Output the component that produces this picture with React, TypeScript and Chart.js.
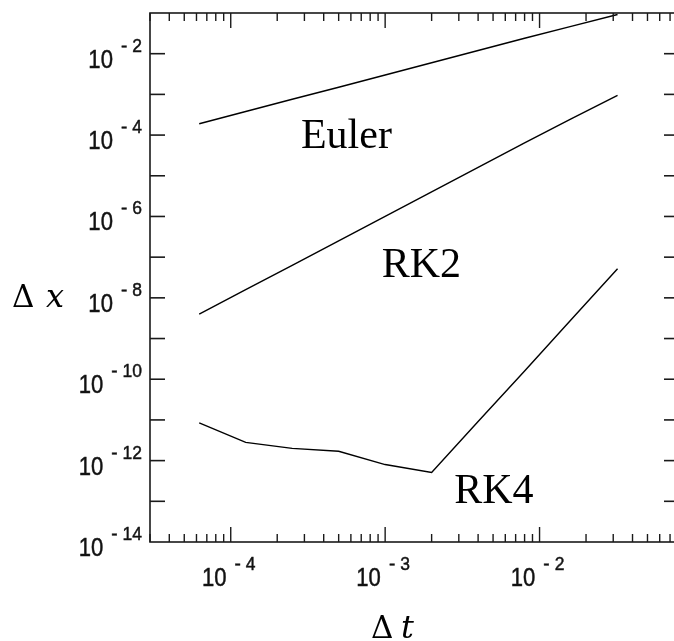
import React, { useEffect, useRef } from 'react';
import { Chart, registerables } from 'chart.js';

Chart.register(...registerables);

// ---- data ----
const dt = [6.25e-5, 1.25e-4, 2.5e-4, 5e-4, 1e-3, 2e-3, 4e-3, 8e-3, 1.6e-2, 3.2e-2];
const euler = [1.9e-4, 3.8e-4, 7.6e-4, 1.5e-3, 3.0e-3, 6.0e-3, 1.2e-2, 2.4e-2, 4.7e-2, 9.2e-2];
const rk2 = [4.0e-9, 1.6e-8, 6.3e-8, 2.5e-7, 1.0e-6, 4.0e-6, 1.6e-5, 6.4e-5, 2.5e-4, 9.5e-4];
const rk4 = [8.5e-12, 2.8e-12, 2.0e-12, 1.7e-12, 8.0e-13, 5.1e-13, 9.1e-12, 1.6e-10, 2.9e-9, 5.2e-8];

const curveNames = ['Euler', 'RK2', 'RK4'];
const nameDt = [2.85e-4, 9.5e-4, 2.8e-3];
const nameDx = [4.9e-5, 3.2e-8, 9.1e-14];

const xMin = 3e-5;
const xMax = 0.08;
const yMin = 1e-14;
const yMax = 1e-1;

const xLabelExps = [-4, -3, -2];
const xDecades = [-5, -4, -3, -2, -1];
const yLabelExps = [-14, -12, -10, -8, -6, -4, -2];
const yTickExps = [-13, -12, -11, -10, -9, -8, -7, -6, -5, -4, -3, -2];

const xTitle = ['Δ', 't'];
const yTitle = ['Δ', 'x'];

const BASE_FONT = '26px "Liberation Sans", Arial, sans-serif';
const SUP_FONT = '19px "Liberation Sans", Arial, sans-serif';
const CONDENSE = 0.85;

function powWidth(ctx: CanvasRenderingContext2D, exp: number) {
  ctx.font = BASE_FONT;
  const w10 = ctx.measureText('10').width * CONDENSE;
  ctx.font = SUP_FONT;
  const wm = ctx.measureText('-').width;
  const wd = ctx.measureText(String(Math.abs(exp))).width * 0.92;
  return { w10, wm, wd, gap: 8, gap2: 5, total: w10 + 8 + wm + 5 + wd };
}

function heavyText(ctx: CanvasRenderingContext2D, t: string, x: number, y: number) {
  ctx.fillText(t, x, y);
  ctx.strokeText(t, x, y);
}

function drawPow(ctx: CanvasRenderingContext2D, exp: number, left: number, baseBaseline: number, supBaseline: number) {
  const m = powWidth(ctx, exp);
  ctx.textAlign = 'left';
  ctx.textBaseline = 'alphabetic';
  ctx.lineWidth = 0.5;
  ctx.font = BASE_FONT;
  ctx.save();
  ctx.translate(left, baseBaseline);
  ctx.scale(CONDENSE, 1);
  heavyText(ctx, '10', 0, 0);
  ctx.restore();
  ctx.font = SUP_FONT;
  let x = left + m.w10 + m.gap;
  heavyText(ctx, '-', x, supBaseline);
  x += m.wm + m.gap2;
  ctx.save();
  ctx.translate(x, supBaseline);
  ctx.scale(0.92, 1);
  heavyText(ctx, String(Math.abs(exp)), 0, 0);
  ctx.restore();
}

const decorPlugin = {
  id: 'decor',
  afterDraw(chart: any) {
    const { ctx, chartArea: a } = chart;
    const xs = chart.scales.x;
    const ys = chart.scales.y;
    ctx.save();
    ctx.strokeStyle = '#1a1a1a';
    ctx.fillStyle = '#111';
    ctx.lineWidth = 1.6;
    ctx.strokeRect(a.left, a.top, a.right - a.left, a.bottom - a.top);

    const seg = (x1: number, y1: number, x2: number, y2: number) => {
      ctx.beginPath();
      ctx.moveTo(x1, y1);
      ctx.lineTo(x2, y2);
      ctx.stroke();
    };

    // y ticks (left + right)
    yTickExps.forEach((e) => {
      const py = ys.getPixelForValue(Math.pow(10, e));
      seg(a.left, py, a.left + 15, py);
      seg(a.right - 15, py, a.right, py);
    });

    // x ticks (bottom + top)
    ctx.lineWidth = 1.4;
    xDecades.forEach((d) => {
      for (let m = 1; m <= 9; m++) {
        const v = m * Math.pow(10, d);
        if (v <= xMin || v >= xMax) continue;
        const px = xs.getPixelForValue(v);
        const len = m === 1 ? 15 : 8;
        seg(px, a.bottom, px, a.bottom - len);
        seg(px, a.top, px, a.top + len);
      }
    });

    // y labels
    yLabelExps.forEach((e) => {
      const py = ys.getPixelForValue(Math.pow(10, e));
      const w = powWidth(ctx, e).total;
      drawPow(ctx, e, a.left - 8 - w, py + 14, py - 2);
    });

    // x labels
    xLabelExps.forEach((e) => {
      const px = xs.getPixelForValue(Math.pow(10, e));
      const w = powWidth(ctx, e).total;
      drawPow(ctx, e, px - 2 - w / 2, a.bottom + 44, a.bottom + 28);
    });

    // axis titles
    ctx.fillStyle = '#000';
    ctx.textAlign = 'left';
    ctx.textBaseline = 'alphabetic';
    ctx.font = '31px "DejaVu Serif", serif';
    ctx.fillText(xTitle[0], 371, 638);
    ctx.fillText(yTitle[0], 12, 307);
    ctx.font = 'italic 32px "DejaVu Serif", serif';
    ctx.fillText(xTitle[1], 401, 638);
    ctx.fillText(yTitle[1], 46, 307);

    // curve names
    ctx.font = '42px "Liberation Serif", "Times New Roman", serif';
    curveNames.forEach((n, i) => {
      ctx.fillText(n, xs.getPixelForValue(nameDt[i]), ys.getPixelForValue(nameDx[i]));
    });
    ctx.restore();
  },
};

export default function App() {
  const ref = useRef<HTMLCanvasElement | null>(null);
  useEffect(() => {
    if (!ref.current) return;
    const mk = (vals: number[]) => dt.map((x, i) => ({ x, y: vals[i] }));
    const ds = (label: string, vals: number[]) => ({
      label,
      data: mk(vals),
      borderColor: '#000',
      borderWidth: 1.4,
      pointRadius: 0,
      fill: false,
      tension: 0,
    });
    const chart = new Chart(ref.current, {
      type: 'line',
      data: { datasets: [ds('Euler', euler), ds('RK2', rk2), ds('RK4', rk4)] },
      options: {
        animation: false,
        responsive: false,
        devicePixelRatio: 1,
        events: [],
        layout: { padding: { left: 150, top: 13, right: 21, bottom: 99 } },
        plugins: { legend: { display: false }, tooltip: { enabled: false } },
        scales: {
          x: { type: 'logarithmic', min: xMin, max: xMax, display: false },
          y: { type: 'logarithmic', min: yMin, max: yMax, display: false },
        },
      } as any,
      plugins: [decorPlugin],
    });
    return () => chart.destroy();
  }, []);
  return (
    <div style={{ position: 'fixed', left: 0, top: 0, width: 674, height: 641, overflow: 'hidden', background: '#fff' }}>
      <canvas ref={ref} width={700} height={641} style={{ display: 'block' }} />
    </div>
  );
}
